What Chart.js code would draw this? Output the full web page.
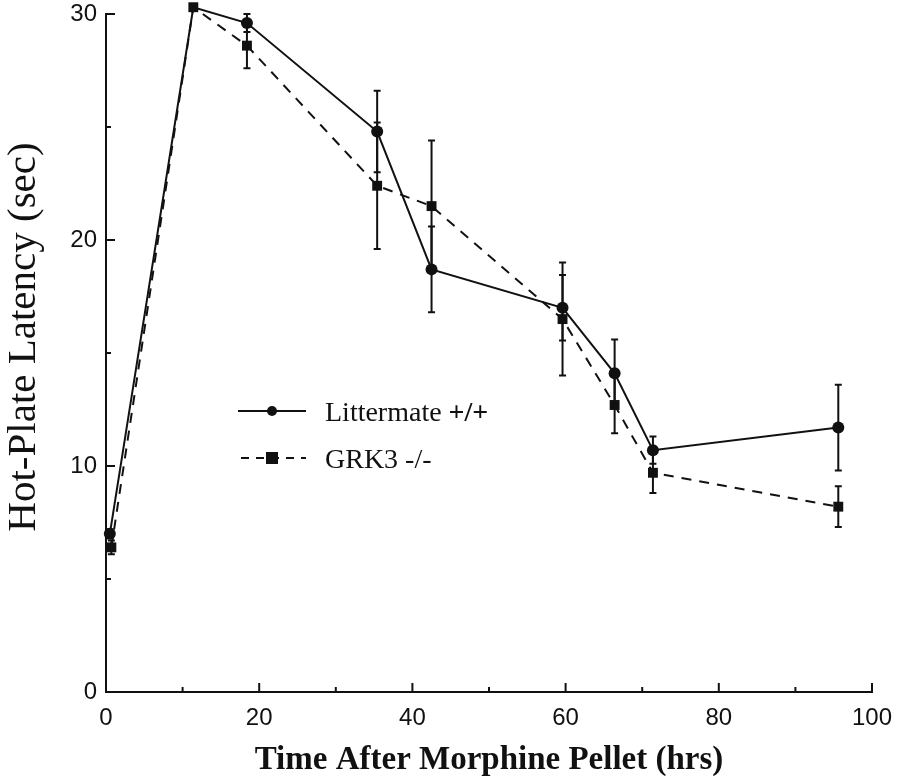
<!DOCTYPE html>
<html><head><meta charset="utf-8">
<script src="https://cdn.jsdelivr.net/npm/chart.js@4/dist/chart.umd.min.js"></script>
<style>html,body{margin:0;padding:0;background:#fff}#wrap{width:900px;height:780px}</style>
</head><body><div id="wrap"><canvas id="c" width="900" height="780"></canvas></div>
<script>
const hours_litter = [0.5, 11.4, 18.4, 35.4, 42.5, 59.6, 66.4, 71.4, 95.6];
const latency_litter = [7.0, 30.3, 29.6, 24.8, 18.7, 17.0, 14.1, 10.7, 11.7];
const sem_litter = [0.2, 0, 0.4, 1.8, 1.9, 1.45, 1.5, 0.6, 1.9];
const hours_grk3 = [0.7, 11.4, 18.4, 35.4, 42.5, 59.6, 66.4, 71.4, 95.6];
const latency_grk3 = [6.4, 30.3, 28.6, 22.4, 21.5, 16.5, 12.7, 9.7, 8.2];
const sem_grk3 = [0.3, 0, 1.0, 2.8, 2.9, 2.5, 1.25, 0.9, 0.9];
const seriesNames = ['Littermate', 'GRK3 -/-'];
const xTickLabels = [0, 20, 40, 60, 80, 100];
const yTickLabels = [0, 10, 20, 30];
const yTitle = 'Hot-Plate Latency (sec)';

const toPts = (xs, ys) => xs.map((x, i) => ({x: x, y: ys[i]}));
const SERIF = '"Liberation Serif", "DejaVu Serif", serif';
const SANS = '"Liberation Sans", "DejaVu Sans", sans-serif';

const errorBars = {
  id: 'errorBars',
  afterDatasetsDraw(chart) {
    const ctx = chart.ctx, xs = chart.scales.x, ys = chart.scales.y;
    const sets = [[hours_litter, latency_litter, sem_litter], [hours_grk3, latency_grk3, sem_grk3]];
    ctx.save();
    ctx.strokeStyle = '#111'; ctx.lineWidth = 2; ctx.setLineDash([]);
    sets.forEach(([hx, ly, se]) => {
      hx.forEach((h, i) => {
        if (!se[i]) return;
        const px = xs.getPixelForValue(h);
        const top = ys.getPixelForValue(ly[i] + se[i]);
        const bot = ys.getPixelForValue(ly[i] - se[i]);
        ctx.beginPath();
        ctx.moveTo(px, top); ctx.lineTo(px, bot);
        ctx.moveTo(px - 3.5, top); ctx.lineTo(px + 3.5, top);
        ctx.moveTo(px - 3.5, bot); ctx.lineTo(px + 3.5, bot);
        ctx.stroke();
      });
    });
    ctx.restore();
  }
};

const axisDecor = {
  id: 'axisDecor',
  afterDraw(chart) {
    const ctx = chart.ctx, xs = chart.scales.x, ys = chart.scales.y;
    const x0 = xs.getPixelForValue(0), y0 = ys.getPixelForValue(0);
    ctx.save();
    ctx.strokeStyle = '#111'; ctx.lineWidth = 2;
    ctx.beginPath();
    for (let v = 10; v <= 100; v += 10) {
      const p = xs.getPixelForValue(v);
      const len = v % 20 === 0 ? 9 : 5;
      ctx.moveTo(p, y0); ctx.lineTo(p, y0 - len);
    }
    for (let v = 5; v <= 30; v += 5) {
      const p = ys.getPixelForValue(v);
      const len = v % 10 === 0 ? 9 : 5;
      ctx.moveTo(x0, p); ctx.lineTo(x0 + len, p);
    }
    ctx.stroke();
    // y title
    ctx.save();
    ctx.translate(24, 337);
    ctx.rotate(-Math.PI / 2);
    ctx.fillStyle = '#111';
    ctx.font = '41px ' + SERIF;
    ctx.textAlign = 'center'; ctx.textBaseline = 'middle';
    ctx.fillText(yTitle, 0, 0);
    ctx.restore();
    // legend
    const ly1 = 411, ly2 = 458;
    ctx.lineWidth = 2;
    ctx.beginPath(); ctx.moveTo(238, ly1); ctx.lineTo(306, ly1); ctx.stroke();
    ctx.fillStyle = '#111';
    ctx.beginPath(); ctx.arc(272, ly1, 5, 0, Math.PI * 2); ctx.fill();
    ctx.setLineDash([8, 7]);
    ctx.beginPath(); ctx.moveTo(241, ly2); ctx.lineTo(306, ly2); ctx.stroke();
    ctx.setLineDash([]);
    ctx.fillRect(266, ly2 - 6, 12, 12);
    ctx.textBaseline = 'alphabetic'; ctx.textAlign = 'left';
    ctx.font = '28px ' + SERIF;
    ctx.fillText(seriesNames[0] + ' ', 325, ly1 + 10);
    const w = ctx.measureText(seriesNames[0] + ' ').width;
    ctx.font = 'bold 28px ' + SERIF;
    ctx.fillText('+/+', 325 + w, ly1 + 10);
    ctx.font = '28px ' + SERIF;
    ctx.fillText(seriesNames[1], 325, ly2 + 10);
    ctx.restore();
  }
};

new Chart(document.getElementById('c'), {
  type: 'line',
  data: {
    datasets: [
      {label: seriesNames[0], data: toPts(hours_litter, latency_litter), borderColor: '#111', backgroundColor: '#111',
       borderWidth: 2, pointStyle: 'circle', pointRadius: 6, pointBorderWidth: 0, tension: 0, clip: false},
      {label: seriesNames[1], data: toPts(hours_grk3, latency_grk3), borderColor: '#111', backgroundColor: '#111',
       borderWidth: 2, borderDash: [10, 8], pointStyle: 'rect', pointRadius: 7, pointBorderWidth: 0, tension: 0, clip: false}
    ]
  },
  plugins: [errorBars, axisDecor],
  options: {
    responsive: false, animation: false,
    layout: {padding: {top: 14, right: 28, left: 0, bottom: 0}},
    plugins: {legend: {display: false}, tooltip: {enabled: false}},
    scales: {
      x: {
        type: 'linear', min: 0, max: 100,
        afterBuildTicks: s => { s.ticks = xTickLabels.map(v => ({value: v})); },
        afterFit: s => { s.height = 88; s.paddingLeft = 0; s.paddingRight = 0; },
        grid: {display: false, drawTicks: false},
        border: {display: true, color: '#111', width: 2},
        ticks: {color: '#111', font: {family: SANS, size: 24}, padding: 12, maxRotation: 0},
        title: {display: true, text: 'Time After Morphine Pellet (hrs)', color: '#111',
                font: {family: SERIF, size: 33, weight: 'bold'}, padding: {top: 5, bottom: 0}}
      },
      y: {
        min: 0, max: 30,
        afterBuildTicks: s => { s.ticks = yTickLabels.map(v => ({value: v})); },
        afterFit: s => { s.width = 106; s.paddingTop = 0; s.paddingBottom = 0; },
        grid: {display: false, drawTicks: false},
        border: {display: true, color: '#111', width: 2},
        ticks: {color: '#111', font: {family: SANS, size: 24}, padding: 9},
        title: {display: false}
      }
    }
  }
});
</script></body></html>
